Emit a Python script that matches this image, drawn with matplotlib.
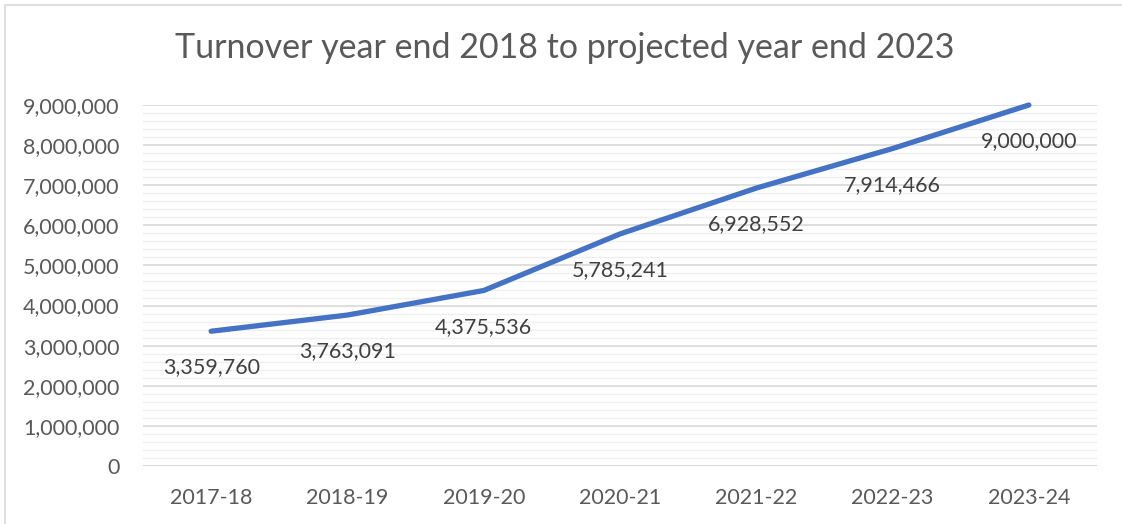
import matplotlib.pyplot as plt
from matplotlib.ticker import MultipleLocator, FuncFormatter

years = ['2017-18', '2018-19', '2019-20', '2020-21', '2021-22', '2022-23', '2023-24']
turnover = [3359760, 3763091, 4375536, 5785241, 6928552, 7914466, 9000000]

plt.rcParams['font.family'] = ['Lato', 'DejaVu Sans']
grey = '#595959'

fig = plt.figure(figsize=(11.22, 5.24), dpi=100)
ax = fig.add_axes([143 / 1122, 58 / 524, (1097 - 143) / 1122, (466 - 105) / 524])

x = list(range(len(years)))
ax.plot(x, turnover, color='#4472C4', linewidth=3.8, solid_capstyle='round',
        zorder=3, clip_on=False)

for xi, v in zip(x, turnover):
    ax.annotate(f'{v:,}', (xi, v), xytext=(0, -26), textcoords='offset points',
                ha='center', va='center', fontsize=15.5, color='#404040', zorder=4)

ax.set_xlim(-0.5, len(years) - 0.5)
ax.set_ylim(0, 9000000)
ax.yaxis.set_major_locator(MultipleLocator(1000000))
ax.yaxis.set_minor_locator(MultipleLocator(200000))
ax.yaxis.set_major_formatter(FuncFormatter(lambda v, p: f'{int(v):,}'))
ax.set_xticks(x)
ax.set_xticklabels(years)

ax.grid(axis='y', which='major', color='#D9D9D9', linewidth=1.2)
ax.grid(axis='y', which='minor', color='#EFEFEF', linewidth=1.0)
ax.set_axisbelow(True)
for s in ax.spines.values():
    s.set_visible(False)
ax.axhline(0, color='#D9D9D9', linewidth=1.2, zorder=1)

ax.tick_params(axis='both', which='both', length=0, labelsize=15.5, colors=grey)
ax.tick_params(axis='y', pad=17)
ax.tick_params(axis='x', pad=16)

fig.text(565 / 1122, 1 - 48 / 524, 'Turnover year end 2018 to projected year end 2023',
         ha='center', va='center', fontsize=24.5, color=grey)

# outer chart border
fig.patches.append(plt.Rectangle((5 / 1122, -0.01), 1.2, 1 - 5 / 524 + 0.01,
                                 transform=fig.transFigure, fill=False,
                                 edgecolor='#D9D9D9', linewidth=1.2))

fig.savefig('out.png', dpi=100)
